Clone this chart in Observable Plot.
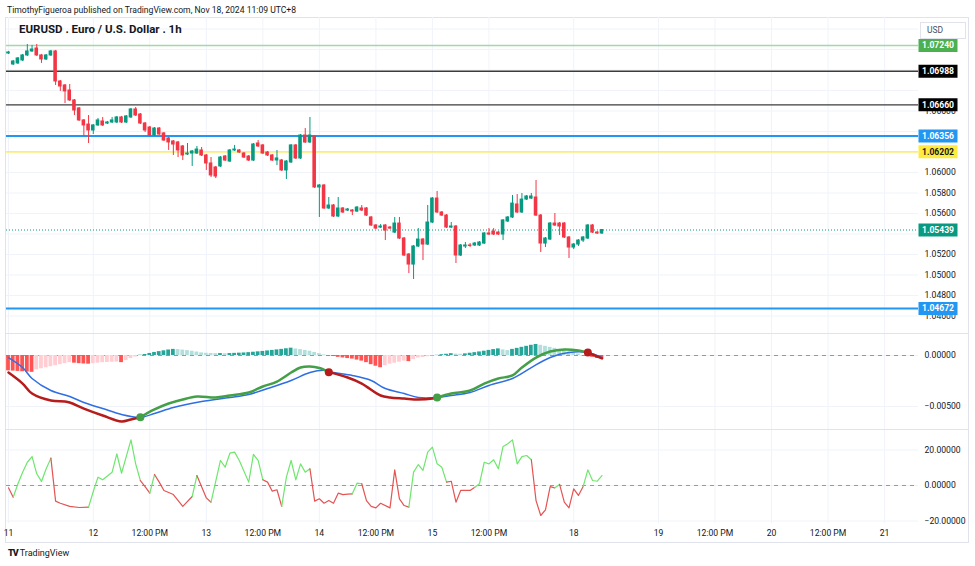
<!DOCTYPE html>
<html><head><meta charset="utf-8">
<script src="https://cdn.jsdelivr.net/npm/d3@7"></script>
<script src="https://cdn.jsdelivr.net/npm/@observablehq/plot@0.6"></script>
<style>
html,body{margin:0;padding:0;background:#fff;}
#root{position:relative;width:975px;height:566px;overflow:hidden;font-family:Roboto,"Liberation Sans",Arial,sans-serif;color:#131722;}
.hl{position:absolute;height:1px;background:#e0e3eb;}
.vl{position:absolute;width:1px;background:#e0e3eb;}
</style></head><body>
<div id="root">
  <div style="position:absolute;left:7px;top:5px;font-size:8.6px;color:#131722;">TimothyFigueroa published on TradingView.com, Nov 18, 2024 11:09 UTC+8</div>
  <div class="hl" style="left:5px;top:17px;width:964px"></div>
  <div class="vl" style="left:5px;top:17px;height:526px"></div>
  <div class="vl" style="left:968px;top:17px;height:526px"></div>
  <div class="hl" style="left:5px;top:542px;width:964px"></div>
</div>
<script>
// ---------------- DATA ----------------
// hourly candles, bar 0 = Mon Nov 11 (UTC+8), weekend gap removed
const openP = [
1.07161,1.07054,1.07064,1.07093,1.07142,1.07181,1.07210,1.07142,1.07103,1.07142,
1.07181,1.06888,1.06849,1.06800,1.06703,1.06625,1.06508,1.06468,1.06410,1.06459,
1.06498,1.06478,1.06488,1.06488,1.06537,1.06488,1.06537,1.06615,1.06566,1.06478,
1.06439,1.06361,1.06429,1.06381,1.06332,1.06303,1.06293,1.06254,1.06176,1.06185,
1.06185,1.06215,1.06166,1.06088,1.06049,1.06059,1.06156,1.06107,1.06215,1.06215,
1.06185,1.06156,1.06117,1.06283,1.06264,1.06195,1.06166,1.06117,1.06117,1.06020,
1.06098,1.06264,1.06137,1.06361,1.06293,1.06351,1.05854,1.05873,1.05649,1.05678,
1.05571,1.05649,1.05629,1.05629,1.05619,1.05649,1.05649,1.05561,1.05483,1.05463,
1.05483,1.05463,1.05414,1.05502,1.05356,1.05200,1.05102,1.05278,1.05346,1.05297,
1.05512,1.05746,1.05610,1.05580,1.05463,1.05473,1.05190,1.05278,1.05288,1.05288,
1.05288,1.05307,1.05405,1.05424,1.05414,1.05395,1.05522,1.05561,1.05688,1.05610,
1.05736,1.05746,1.05756,1.05580,1.05307,1.05346,1.05502,1.05502,1.05502,1.05366,
1.05268,1.05297,1.05336,1.05356,1.05483,1.05414,1.05405];
const highP = [
1.07181,1.07093,1.07122,1.07152,1.07249,1.07240,1.07249,1.07152,1.07152,1.07191,
1.07191,1.06898,1.06859,1.06859,1.06712,1.06634,1.06517,1.06556,1.06468,1.06527,
1.06537,1.06498,1.06537,1.06547,1.06547,1.06556,1.06625,1.06634,1.06576,1.06488,
1.06449,1.06439,1.06439,1.06390,1.06342,1.06312,1.06303,1.06264,1.06283,1.06215,
1.06254,1.06244,1.06176,1.06146,1.06059,1.06156,1.06166,1.06224,1.06264,1.06224,
1.06195,1.06166,1.06283,1.06312,1.06273,1.06205,1.06176,1.06215,1.06127,1.06117,
1.06273,1.06273,1.06371,1.06429,1.06537,1.06361,1.05883,1.05883,1.05756,1.05688,
1.05756,1.05658,1.05649,1.05639,1.05668,1.05678,1.05658,1.05571,1.05492,1.05492,
1.05492,1.05473,1.05561,1.05561,1.05366,1.05209,1.05288,1.05453,1.05356,1.05678,
1.05756,1.05815,1.05619,1.05590,1.05512,1.05483,1.05297,1.05317,1.05307,1.05317,
1.05327,1.05414,1.05453,1.05453,1.05424,1.05541,1.05571,1.05776,1.05785,1.05795,
1.05776,1.05795,1.05922,1.05590,1.05366,1.05512,1.05600,1.05512,1.05512,1.05375,
1.05307,1.05346,1.05375,1.05492,1.05492,1.05424,1.05444];
const lowP = [
1.07152,1.07044,1.07054,1.07083,1.07132,1.07171,1.07132,1.07064,1.07093,1.07132,
1.06849,1.06791,1.06673,1.06693,1.06556,1.06498,1.06351,1.06283,1.06371,1.06449,
1.06449,1.06468,1.06478,1.06478,1.06478,1.06478,1.06527,1.06547,1.06468,1.06390,
1.06351,1.06351,1.06361,1.06303,1.06215,1.06166,1.06146,1.06117,1.06166,1.06059,
1.06176,1.06156,1.06020,1.05951,1.05941,1.06049,1.06107,1.06098,1.06205,1.06185,
1.06137,1.06107,1.06107,1.06244,1.06176,1.06156,1.06107,1.06068,1.06010,1.05932,
1.06088,1.06127,1.06127,1.06283,1.06283,1.05844,1.05561,1.05639,1.05639,1.05561,
1.05561,1.05600,1.05619,1.05580,1.05610,1.05619,1.05571,1.05473,1.05444,1.05453,
1.05336,1.05444,1.05405,1.05346,1.05180,1.05014,1.04956,1.05268,1.05141,1.05288,
1.05502,1.05600,1.05571,1.05453,1.05453,1.05112,1.05180,1.05258,1.05268,1.05278,
1.05278,1.05297,1.05385,1.05385,1.05385,1.05336,1.05512,1.05551,1.05600,1.05600,
1.05727,1.05736,1.05571,1.05219,1.05268,1.05336,1.05473,1.05385,1.05356,1.05161,
1.05248,1.05278,1.05317,1.05346,1.05405,1.05395,1.05395];
const closeP = [
1.07171,1.07083,1.07113,1.07142,1.07181,1.07200,1.07142,1.07103,1.07142,1.07181,
1.06888,1.06839,1.06791,1.06703,1.06605,1.06508,1.06459,1.06410,1.06459,1.06508,
1.06459,1.06488,1.06508,1.06537,1.06488,1.06547,1.06615,1.06556,1.06478,1.06410,
1.06361,1.06429,1.06371,1.06312,1.06293,1.06273,1.06215,1.06166,1.06185,1.06205,
1.06224,1.06166,1.06088,1.05971,1.05961,1.06146,1.06117,1.06215,1.06224,1.06195,
1.06146,1.06117,1.06273,1.06254,1.06185,1.06166,1.06117,1.06137,1.06020,1.06107,
1.06264,1.06137,1.06361,1.06293,1.06361,1.05854,1.05873,1.05649,1.05678,1.05571,
1.05649,1.05610,1.05639,1.05619,1.05658,1.05629,1.05580,1.05483,1.05453,1.05473,
1.05434,1.05453,1.05502,1.05356,1.05190,1.05102,1.05278,1.05346,1.05297,1.05512,
1.05746,1.05610,1.05580,1.05463,1.05473,1.05190,1.05288,1.05288,1.05283,1.05307,
1.05317,1.05405,1.05395,1.05395,1.05395,1.05532,1.05561,1.05697,1.05610,1.05736,
1.05766,1.05766,1.05580,1.05307,1.05356,1.05502,1.05483,1.05473,1.05366,1.05268,
1.05297,1.05336,1.05366,1.05483,1.05414,1.05405,1.05439];

const lastPrice = 1.05439;
const levelPrices = [1.07240, 1.06988, 1.06660, 1.06356, 1.06202, 1.04672];
const priceTicks = [1.046, 1.048, 1.050, 1.052, 1.056, 1.058, 1.060, 1.066];
const priceGrid = [1.046,1.048,1.050,1.052,1.054,1.056,1.058,1.060,1.062,1.064,1.066,1.068,1.070,1.072,1.074];

// x-axis labels (bar index of each label)
const labelBars  = [0, 18, 30, 42, 54, 66, 78, 90, 102, 120, 138, 150, 162, 174, 186];
const labelTexts = ["11","12","12:00 PM","13","12:00 PM","14","12:00 PM","15","12:00 PM","18","19","12:00 PM","20","12:00 PM","21"];

// MACD histogram, one value per bar
const histVals = [
-0.00150,-0.00153,-0.00156,-0.00159,-0.00162,-0.00165,-0.00140,-0.00130,-0.00120,-0.00110,
-0.00100,-0.00090,-0.00080,-0.00070,-0.00075,-0.00080,-0.00083,-0.00085,-0.00080,-0.00075,
-0.00070,-0.00068,-0.00066,-0.00064,-0.00070,-0.00050,-0.00030,-0.00015,0.00003,0.00010,
0.00020,0.00030,0.00038,0.00046,0.00054,0.00060,0.00058,0.00053,0.00048,0.00042,
0.00034,0.00026,0.00022,0.00020,0.00018,0.00019,0.00017,0.00019,0.00021,0.00023,
0.00025,0.00028,0.00032,0.00036,0.00040,0.00045,0.00050,0.00055,0.00060,0.00066,
0.00072,0.00064,0.00058,0.00050,0.00042,0.00030,0.00018,0.00006,-0.00005,-0.00010,
-0.00018,-0.00024,-0.00030,-0.00035,-0.00045,-0.00055,-0.00070,-0.00090,-0.00105,-0.00120,
-0.00100,-0.00085,-0.00075,-0.00065,-0.00055,-0.00060,-0.00040,-0.00025,-0.00020,-0.00012,
-0.00005,0.00002,0.00008,0.00012,0.00018,0.00014,0.00012,0.00016,0.00022,0.00028,
0.00035,0.00042,0.00050,0.00058,0.00065,0.00055,0.00048,0.00060,0.00070,0.00080,
0.00090,0.00100,0.00108,0.00100,0.00090,0.00080,0.00070,0.00060,0.00050,0.00035,
0.00025,0.00015,-0.00003,-0.00008,-0.00018,-0.00028,-0.00036];

// MACD line (bar, value, state vs signal for the segment that starts there)
const macdBars = [0,3,5,9,12,13,16,20,24,26,28,31,34,37,40,44,47,51,54,57,60,62,64,66,68,72,75,79,81,84,87,90,91,94,98,101,104,107,109,112,115,118,121,123,125,126];
const macdVals = [-0.00167,-0.00275,-0.00373,-0.00441,-0.00451,-0.00461,-0.00520,-0.00588,-0.00647,-0.00627,-0.00605,-0.00529,-0.00471,-0.00431,-0.00402,-0.00412,-0.00392,-0.00363,-0.00304,-0.00255,-0.00167,-0.00118,-0.00108,-0.00123,-0.00163,-0.00216,-0.00275,-0.00392,-0.00412,-0.00422,-0.00431,-0.00422,-0.00412,-0.00373,-0.00343,-0.00275,-0.00225,-0.00196,-0.00118,-0.00020,0.00039,0.00059,0.00049,0.00029,-0.00010,-0.00029];
const macdState = ["dn","dn","dn","dn","dn","dn","dn","dn","dn","dn","up","up","up","up","up","up","up","up","up","up","up","up","up","up","dn","dn","dn","dn","dn","dn","dn","dn","up","up","up","up","up","up","up","up","up","up","up","dn","dn","dn"];
// signal line
const signalBars = [0,3,5,9,13,16,20,24,28,31,35,41,47,51,55,60,64,67,69,73,77,80,84,87,91,94,98,102,107,111,115,119,123,126];
const signalVals = [-0.00020,-0.00118,-0.00225,-0.00343,-0.00402,-0.00461,-0.00520,-0.00578,-0.00605,-0.00569,-0.00510,-0.00451,-0.00412,-0.00382,-0.00324,-0.00245,-0.00167,-0.00145,-0.00167,-0.00196,-0.00245,-0.00324,-0.00373,-0.00412,-0.00412,-0.00392,-0.00363,-0.00294,-0.00225,-0.00118,-0.00020,0.00029,0.00029,-0.00020];
// crossover markers
const crossBars = [28, 68, 91, 123];
const crossVals = [-0.00605, -0.00163, -0.00412, 0.00029];
const crossState = ["up","dn","up","dn"];

// lower oscillator (bar, value, state of segment starting there)
const oscBars = [0,1,2,3,4,5,6,7,8,9,10,11,13,15,17,18,19,20,22,23,24,25,26,27,28,29,30,31,32,33,35,37,39,40,42,43,45,46,47,48,49,51,52,53,54,55,56,57,58,59,60,61,62,63,64,65,66,67,68,69,70,71,72,73,74,75,76,77,78,79,81,82,83,84,85,86,87,88,89,90,91,92,93,94,95,96,98,99,100,101,102,103,104,105,106,107,108,109,110,111,112,113,114,115,116,117,118,119,120,121,122,123,124,125,126];
const oscVals = [-1.3,-6.6,1,7.5,13.1,16.3,6.6,2.3,9.4,15.4,-8.8,-10,-11.8,-12.4,-12.2,-3.4,4.7,3.2,7.5,17.8,6.9,16.3,25.7,12.2,2.8,-0.6,-4.3,6.2,1.9,-2.8,-5.1,-11.8,-6.2,5.6,-7,-9.4,14.1,10.3,18.2,18.8,14.1,1.9,17.5,14.1,3.2,1.9,-3.2,-2.4,-11.8,4.7,14.1,3.2,12.2,7.5,9.4,-8.8,-7.5,-10,-8.5,-10,-4.3,-5.1,-4.9,-4.7,1.3,1,-8.5,-11.8,-12.6,-10,-12.6,8.8,-7.5,-11.3,-12.2,7.5,11.8,8.5,18.8,21.6,12.2,10.3,1.9,2.4,-9.4,-2.8,-2.8,-1,1,13.1,12.2,14.5,9.4,22,23.5,25.7,12.2,16.3,16.9,14.5,-8.5,-16.9,-13.7,-0.6,-1.3,0.6,-9.4,-12.6,-1.9,-5.6,-0.6,8.8,2.8,2.4,5.6];
const oscState = ["dn","up","up","up","up","up","up","up","up","dn","dn","dn","dn","dn","up","up","up","up","up","up","up","up","up","up","dn","dn","up","dn","dn","dn","dn","dn","up","dn","dn","up","up","up","up","up","up","up","up","up","dn","dn","dn","dn","up","up","up","up","up","up","dn","dn","dn","dn","dn","dn","dn","dn","dn","up","up","dn","dn","dn","dn","dn","dn","dn","dn","dn","up","up","up","up","up","up","up","up","dn","dn","dn","dn","dn","up","up","up","up","up","up","up","up","up","up","up","up","dn","dn","dn","dn","dn","up","dn","dn","dn","dn","dn","up","up","up","up","up"];

// ---------------- STYLE ----------------
const FONT = "Roboto, 'Liberation Sans', Arial, sans-serif";
const UP = "#089981", DN = "#f23645", GRID = "#f0f3fa", TXT = "#131722";
const levelStyle = [
  {line:"#a5d6a7", w:1.5, bg:"#4caf50", fg:"#ffffff"},
  {line:"#3c3c3c", w:1.3, bg:"#000000", fg:"#ffffff"},
  {line:"#3c3c3c", w:1.3, bg:"#000000", fg:"#ffffff"},
  {line:"#2196f3", w:2,   bg:"#2196f3", fg:"#ffffff"},
  {line:"#ffeb3b", w:1.3, bg:"#ffeb3b", fg:"#131722"},
  {line:"#2196f3", w:2,   bg:"#2196f3", fg:"#ffffff"}
];
const HIST = {growUp:"#26a69a", fallUp:"#b2dfdb", growDn:"#ffcdd2", fallDn:"#ff5252"};
const MACDC = {up:"#43a047", dn:"#b71c1c"};
const SIGC = "#2f6fe4";
const OSCC = {up:"#6ee66e", dn:"#e55353"};
const AX = 8.6;

const W = 975, ML = 6, MR = 975 - 918;
const XS = {domain: [-0.425, 193.2], axis: null};
const fmt5 = d3.format(".5f");
const st = {background:"transparent", fontFamily: FONT, fontSize: AX+"px", color: TXT, overflow:"visible"};
const boxSym = {draw(ctx){ ctx.moveTo(-19.5,-6.5); ctx.lineTo(19.5,-6.5); ctx.lineTo(19.5,6.5); ctx.lineTo(-19.5,6.5); ctx.closePath(); }};

const root = document.getElementById("root");
function place(svg, top){ svg.style.position="absolute"; svg.style.left="0px"; svg.style.top=top+"px"; root.appendChild(svg); }

// ---------------- PRICE PANE ----------------
const bars = openP.map((o,i)=>({i, o, h:highP[i], l:lowP[i], c:closeP[i]}));
const levels = levelPrices.map((p,k)=>({p, bg: levelStyle[k].bg, fg: levelStyle[k].fg}));
const allLabels = [...levels, {p:lastPrice, bg:UP, fg:"#ffffff"}];

const price = Plot.plot({
  width: W, height: 316, marginTop: 0, marginBottom: 0, marginLeft: ML, marginRight: MR,
  x: XS, y: {domain:[1.044293, 1.075122], axis: null},
  style: st,
  marks: [
    Plot.ruleY(priceGrid, {stroke: GRID}),
    Plot.ruleX(labelBars, {stroke: GRID}),
    ...levelPrices.map((p,k)=>Plot.ruleY([p], {stroke: levelStyle[k].line, strokeWidth: levelStyle[k].w})),
    Plot.ruleY([lastPrice], {stroke: UP, strokeDasharray: "1,2"}),
    Plot.ruleX(bars, {x:"i", y1:"l", y2:"h", stroke: d => d.c >= d.o ? UP : DN}),
    Plot.rect(bars, {x1: d=>d.i-0.38, x2: d=>d.i+0.38, y1:"o", y2:"c", fill: d => d.c >= d.o ? UP : DN, insetTop:-0.5, insetBottom:-0.5}),
    Plot.text(priceTicks, {y: d=>d, text: d=>fmt5(d), frameAnchor:"right", textAnchor:"start", dx:6, fill: TXT, fontSize: AX}),
    Plot.dot(allLabels, {y:"p", frameAnchor:"right", dx:19.5, symbol: boxSym, r: 5, fill:"bg", stroke:"none"}),
    Plot.text(allLabels, {y:"p", text: d=>fmt5(d.p), frameAnchor:"right", textAnchor:"middle", dx:19.5, fill:"fg", fontSize: AX, fontWeight:"bold"})
  ]
});
place(price, 17);

// ---------------- MACD PANE ----------------
function runs(xs, ys, states){
  const rows = []; let r = 0;
  for (let i=0;i<xs.length;i++){
    if (i>0 && states[i] !== states[i-1]) { rows.push({b:xs[i], v:ys[i], run:r, s:states[i-1]}); r++; }
    rows.push({b:xs[i], v:ys[i], run:r, s:states[i]});
  }
  return rows;
}
const histRows = histVals.map((h,i)=>{
  const prev = i>0 ? histVals[i-1] : 0;
  const col = h >= 0 ? (h > prev ? HIST.growUp : HIST.fallUp) : (h < prev ? HIST.fallDn : HIST.growDn);
  return {i, h, col};
});
const macdRows = runs(macdBars, macdVals, macdState);
const sigRows = signalBars.map((b,i)=>({b, v: signalVals[i]}));
const crossRows = crossBars.map((b,i)=>({b, v: crossVals[i], s: crossState[i]}));

const macd = Plot.plot({
  width: W, height: 96, marginTop: 0, marginBottom: 0, marginLeft: ML, marginRight: MR,
  x: XS, y: {domain:[-0.007255, 0.002157], axis: null},
  style: st,
  marks: [
    Plot.ruleY([0, -0.005], {stroke: GRID}),
    Plot.ruleX(labelBars, {stroke: GRID}),
    Plot.ruleY([0], {stroke:"#9598a1", strokeDasharray:"4,4"}),
    Plot.rect(histRows, {x1: d=>d.i-0.4, x2: d=>d.i+0.4, y1: 0, y2: "h", fill: "col"}),
    Plot.line(sigRows, {x:"b", y:"v", stroke: SIGC, strokeWidth: 1.5, curve:"catmull-rom"}),
    Plot.line(macdRows, {x:"b", y:"v", z:"run", stroke: d=>MACDC[d.s], strokeWidth: 2.5, curve:"catmull-rom"}),
    Plot.dot(crossRows, {x:"b", y:"v", r:4, fill: d=>MACDC[d.s], stroke:"none"}),
    Plot.text([0, -0.005], {y: d=>d, text: d=>fmt5(d), frameAnchor:"right", textAnchor:"start", dx:6, fill: TXT, fontSize: AX})
  ]
});
place(macd, 333);

// ---------------- OSCILLATOR PANE + TIME AXIS ----------------
const oscRows = runs(oscBars, oscVals, oscState);
const labelMap = new Map(labelBars.map((b,i)=>[b, labelTexts[i]]));
const osc = Plot.plot({
  width: W, height: 113, marginTop: 0, marginBottom: 19, marginLeft: ML, marginRight: MR,
  x: {domain: XS.domain, ticks: labelBars, tickFormat: d=>labelMap.get(d), tickSize: 0, tickPadding: 6, label: null},
  y: {domain:[-21.41, 31.55], axis: null},
  style: st,
  marks: [
    Plot.ruleY([20, 0, -20], {stroke: GRID}),
    Plot.ruleX(labelBars, {stroke: GRID}),
    Plot.ruleY([0], {stroke:"#9598a1", strokeDasharray:"4,4"}),
    Plot.line(oscRows, {x:"b", y:"v", z:"run", stroke: d=>OSCC[d.s], strokeWidth: 1.2}),
    Plot.text([20, 0, -20], {y: d=>d, text: d=>fmt5(d), frameAnchor:"right", textAnchor:"start", dx:6, fill: TXT, fontSize: AX})
  ]
});
place(osc, 429);

// separators and overlays
function hline(top){ const d=document.createElement("div"); d.className="hl"; d.style.left="5px"; d.style.top=top+"px"; d.style.width="964px"; root.appendChild(d); }
hline(333); hline(429);
const title = document.createElement("div");
title.textContent = "EURUSD . Euro / U.S. Dollar . 1h";
title.style.cssText = "position:absolute;left:19px;top:22px;font-size:11.5px;font-weight:bold;color:#131722;";
root.appendChild(title);
const usd = document.createElement("div");
usd.textContent = "USD";
usd.style.cssText = "position:absolute;left:920px;top:22px;width:38px;height:15px;border:1px solid #e0e3eb;font-size:8.5px;line-height:15px;color:#4a4e59;padding-left:6px;background:#fff;";
root.appendChild(usd);
const logo = document.createElement("div");
logo.innerHTML = '<span style="font-weight:900;font-size:9px;letter-spacing:-1px;">TV</span> <span>TradingView</span>';
logo.style.cssText = "position:absolute;left:8px;top:548px;font-size:9px;color:#131722;";
root.appendChild(logo);
</script>
</body></html>
